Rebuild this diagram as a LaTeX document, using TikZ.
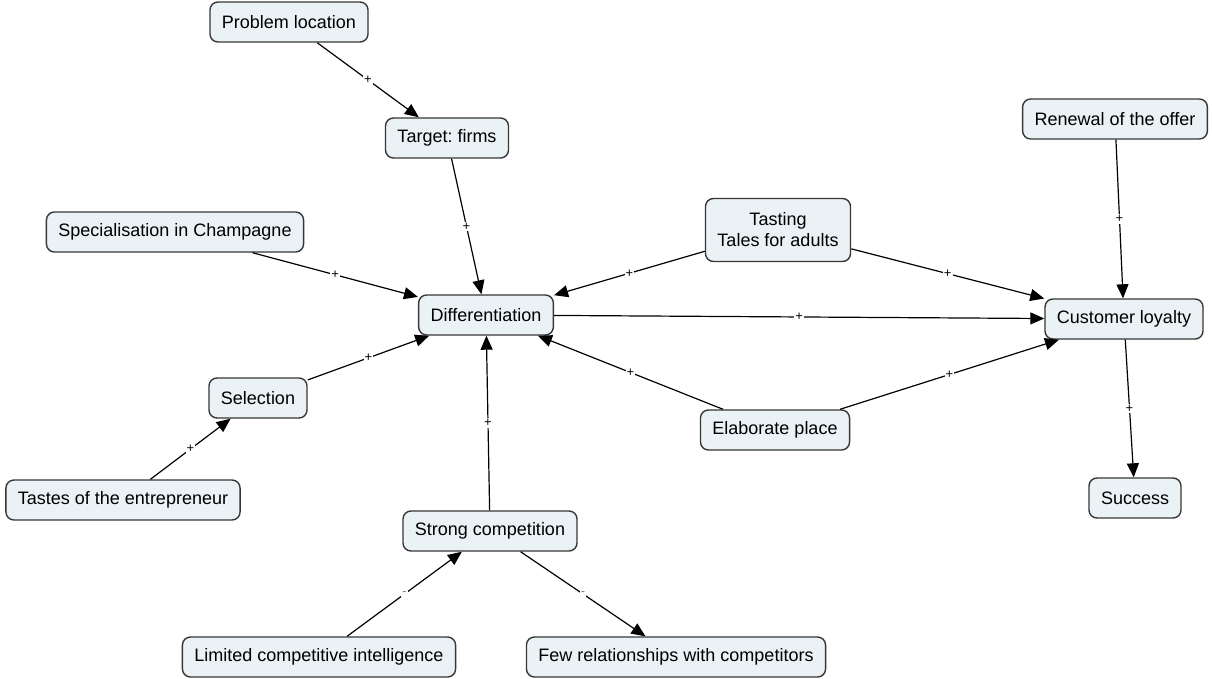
\documentclass[tikz,border=0pt]{standalone}
\usepackage{fontspec}
\setmainfont{Liberation Sans}
\usetikzlibrary{arrows.meta}
\definecolor{boxfill}{RGB}{234,242,245}
\definecolor{boxline}{RGB}{55,55,55}
\frenchspacing

\begin{document}
\begin{tikzpicture} [x=1pt, y=-1pt,
  concept/.style={draw=boxline, line width=1.4pt, fill=boxfill, rounded corners=8pt,
    minimum height=40pt, inner xsep=12pt, align=center,
    font=\fontsize{18}{21}\selectfont},
  link/.style={line width=1.2pt, -{Triangle[length=14pt,width=12pt]}},
  sgn/.style={fill=white, inner sep=1pt, font=\fontsize{13}{13}\selectfont}]
\useasboundingbox (0,0) rectangle (1212,679);
\node[concept] (prob) at (289,22) {Problem location};
\node[concept] (targ) at (447,138) {Target: firms};
\node[concept] (spec) at (175,232) {Specialisation in Champagne};
\node[concept, minimum height=63pt] (tast) at (778,230) {Tasting\\Tales for adults};
\node[concept] (renw) at (1115,119) {Renewal of the offer};
\node[concept] (diff) at (486,315) {Differentiation};
\node[concept] (loyal) at (1124,319) {Customer loyalty};
\node[concept] (sel) at (258,398) {Selection};
\node[concept] (elab) at (775,430) {Elaborate place};
\node[concept] (tastes) at (123,500) {Tastes of the entrepreneur};
\node[concept] (succ) at (1135,498) {Success};
\node[concept] (comp) at (490,531) {Strong competition};
\node[concept] (intel) at (319,657) {Limited competitive intelligence};
\node[concept] (few) at (676,657) {Few relationships with competitors};
% positive links
\draw[link] (prob) -- node[sgn]{+} (targ);
\draw[link] (targ) -- node[sgn]{+} (diff);
\draw[link] (spec) -- node[sgn]{+} (diff);
\draw[link] (tast) -- node[sgn]{+} (diff);
\draw[link] (tast) -- node[sgn]{+} (loyal);
\draw[link] (renw) -- node[sgn]{+} (loyal);
\draw[link] (diff) -- node[sgn]{+} (loyal);
\draw[link] (sel) -- node[sgn]{+} (diff);
\draw[link] (tastes) -- node[sgn]{+} (sel);
\draw[link] (comp) -- node[sgn]{+} (diff);
\draw[link] (elab) -- node[sgn]{+} (diff);
\draw[link] (elab) -- node[sgn]{+} (loyal);
\draw[link] (loyal) -- node[sgn]{+} (succ);
% negative links
\draw[link] (intel) -- node[sgn, text=gray]{-} (comp);
\draw[link] (comp) -- node[sgn, text=gray]{-} (few);
\end{tikzpicture}
\end{document}
